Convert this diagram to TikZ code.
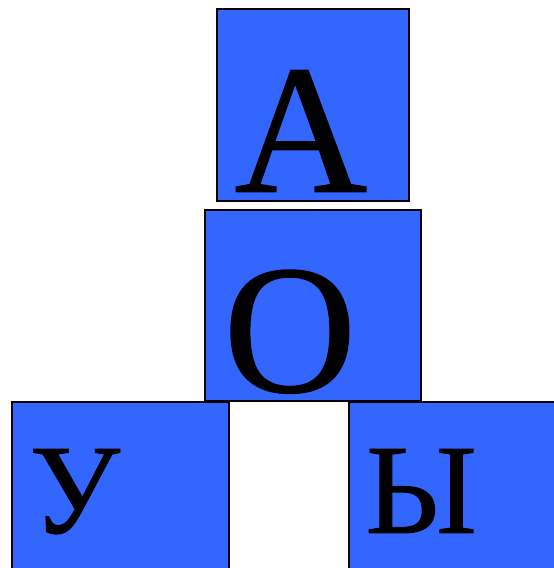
\documentclass[tikz,border=0pt]{standalone}
\usepackage{fontspec}
\setmainfont{Liberation Serif}
\newfontfamily\heavyserif[FakeBold=0.7]{Liberation Serif}
\usetikzlibrary{positioning,calc}
\definecolor{tileblue}{HTML}{3366FF}

\begin{document}
\begin{tikzpicture}[x=1pt, y=1pt,
  tile/.style={draw, fill=tileblue, line width=1.5pt, inner sep=0pt},
  big/.style={anchor=base west, inner sep=0pt, font=\heavyserif\fontsize{184}{184}\selectfont},
  small/.style={anchor=base west, inner sep=0pt, font=\heavyserif\fontsize{128}{128}\selectfont}]
  \useasboundingbox (0,0) rectangle (554,568);
  % top tiles
  \node[tile, minimum width=192pt, minimum height=192pt] (tileA) at (313,463) {};
  \node[tile, minimum width=216pt, minimum height=191pt] (tileO) at (313,262.5) {};
  % bottom row, cut off by the page edge
  \node[tile, minimum width=217pt, minimum height=190pt] (tileU) at (120.5,71) {};
  \node[tile, minimum width=215pt, minimum height=190pt] (tileY) at (456.5,71) {};
  % letters
  \node[big] (lA) at ($(tileA.south west)+(18,10)$) {А};
  \node[big] (lO) at ($(tileO.south west)+(19,10)$) {О};
  \node[small] (lU) at ($(tileU.west |- 0,35)+(18,0)$) {У};
  \node[small] (lY) at ($(tileY.west |- 0,35)+(17,0)$) {Ы};
\end{tikzpicture}
\end{document}
